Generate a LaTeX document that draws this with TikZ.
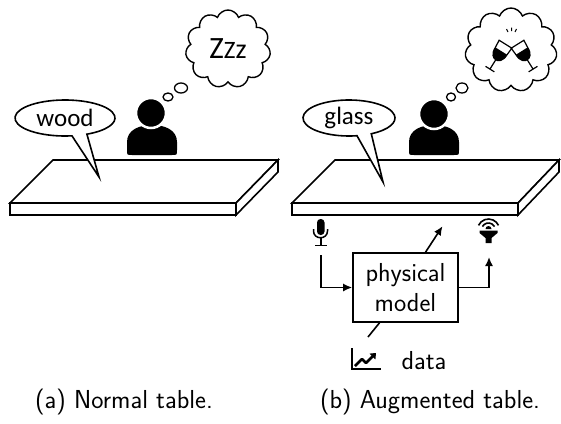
\documentclass[tikz,border=0pt]{standalone}
\usepackage{fontspec}
\newfontfamily\bubblefont{Carlito}
\usetikzlibrary{shapes.symbols,arrows.meta,calc}

\tikzset{
  line/.style={line width=1.6pt},
  bubble/.style={line, fill=white},
  thought/.style={cloud, cloud puffs=11, cloud puff arc=140, cloud ignores aspect,
    draw, line width=1.4pt, fill=white, inner sep=0pt},
  puff/.style={line width=1.3pt, fill=white},
  says/.style={font=\bubblefont\fontsize{25}{25}\selectfont},
  label/.style={font=\sffamily\fontsize{26}{30}\selectfont},
  link/.style={line, -{Latex[length=9pt,width=8pt]}},
}

\begin{document}
\begin{tikzpicture}[x=1pt,y=-1pt]
\useasboundingbox (0,0) rectangle (561,423);

% ---- (a) normal table ----
\draw[line,fill=white] (53,160) -- (278,160) -- (236,203) -- (10,203) -- cycle;
\draw[line,fill=white] (10,203) rectangle (236,215);
\draw[line,fill=white] (236,203) -- (278,160) -- (278,172) -- (236,215) -- cycle;

% person
\fill (127,142) .. controls (127,130) and (139,125) .. (152,125)
  .. controls (165,125) and (177,130) .. (177,142) -- (177,150)
  .. controls (177,155) .. (172,155) -- (132,155)
  .. controls (127,155) .. (127,150) -- cycle;
\filldraw[draw=white, line width=2.5pt] (151,113) circle[radius=15pt];

% speech bubble
\draw[bubble] ($(65,118)+(82:50 and 18)$) arc[start angle=82, end angle=424, x radius=50, y radius=18] -- (99,177) -- cycle;
\node[says] (wood) at (65,118) {wood};

% thought
\draw[puff] (168,97) ellipse[x radius=5, y radius=4];
\draw[puff] (181,88) ellipse[x radius=6.5, y radius=5];
\node[thought, minimum width=85pt, minimum height=78pt] (dream) at (228,49)
  {\bubblefont{\fontsize{31}{31}\selectfont Z}{\fontsize{25}{25}\selectfont Z}{\fontsize{28}{28}\selectfont z}};

\node[label] (capa) at (124,402) {(a) Normal table.};

% ---- (b) augmented table ----
\draw[line,fill=white] (335,160) -- (559,160) -- (518,203) -- (292,203) -- cycle;
\draw[line,fill=white] (292,203) rectangle (518,215);
\draw[line,fill=white] (518,203) -- (559,160) -- (559,172) -- (518,215) -- cycle;

% person
\fill (409,142) .. controls (409,130) and (421,125) .. (434,125)
  .. controls (447,125) and (459,130) .. (459,142) -- (459,150)
  .. controls (459,155) .. (454,155) -- (414,155)
  .. controls (409,155) .. (409,150) -- cycle;
\filldraw[draw=white, line width=2.5pt] (434,114) circle[radius=15pt];

% speech bubble
\draw[bubble] ($(349,118)+(80:46 and 18)$) arc[start angle=80, end angle=421, x radius=46, y radius=18] -- (383,182) -- cycle;
\node[says] (glass) at (349,118) {glass};

% thought with two glasses clinking
\draw[puff] (451,97) ellipse[x radius=4.5, y radius=4];
\draw[puff] (462,88) ellipse[x radius=6, y radius=5];
\node[thought, minimum width=92pt, minimum height=84pt] (cheers) at (511,50) {};
\foreach \gx/\tilt in {500/-32, 523/32}{
  \begin{scope}[shift={(\gx,53)}, rotate=\tilt, scale=1.15]
    \fill (-6,-2) -- (6,-2) .. controls (6,5) and (2.5,7) .. (0,7)
      .. controls (-2.5,7) and (-6,5) .. (-6,-2) -- cycle;
    \draw[line width=1.2pt] (-6.5,-9) -- (6.5,-9) -- (6,-2) .. controls (6,5) and (2.5,7) .. (0,7)
      .. controls (-2.5,7) and (-6,5) .. (-6,-2) -- cycle;
    \draw[line width=1.2pt] (0,7) -- (0,16) (-4.5,16.5) -- (4.5,16.5);
  \end{scope}
}
\draw[line width=1pt] (508,32) -- (506.5,29) (511.5,31) -- (511.5,27.5) (515,32) -- (516.5,29);

% microphone
\fill[rounded corners=3.5pt] (317,219) rectangle (324.5,235);
\draw[line width=1.5pt] (313.5,229) -- (313.5,231) .. controls (313.5,240) and (327.5,240) .. (327.5,231) -- (327.5,229);
\draw[line width=1.5pt] (320.75,238) -- (320.75,245) (315,245.5) -- (326.5,245.5);
\coordinate (micout) at (321,255);

% speaker
\draw[line width=1.6pt] (488.5,230) ++(-155:11) arc[start angle=-155, end angle=-25, radius=11];
\draw[line width=1.6pt] (488.5,230) ++(-150:7) arc[start angle=-150, end angle=-30, radius=7];
\fill (485.5,229) arc[start angle=180, end angle=360, radius=3] -- cycle;
\fill (479.5,230.5) -- (497.5,230.5) -- (497.5,233) -- (491.5,238) -- (491.5,243)
  -- (485.5,243) -- (485.5,238) -- (479.5,233) -- cycle;
\coordinate (spkin) at (489,257);

% model box and signal flow
\node[draw, line, fill=white, label, align=center, minimum width=105pt, minimum height=69pt,
  inner sep=0pt] (model) at (405.5,287.5) {physical\\model};
\draw[link] (micout) |- (model.west);
\draw[link] (model.east) -| (spkin);
\draw[link] ($(model.north)+(20,0)$) -- ++(17,-26);
\coordinate (dataend) at (368,337);
\draw[line] (dataend) -- ($(model.south)+(-26,0)$);

% data icon
\draw[line width=1.3pt] (352,348) -- (352,369) -- (381,369);
\draw[line width=2.5pt, line join=round, -{Triangle[length=5pt,width=8pt]}]
  (355,366) -- (362,359) -- (366,363) -- (376,353);
\node[label] (data) at (424,361) {data};

\node[label] (capb) at (430,402) {(b) Augmented table.};
\end{tikzpicture}
\end{document}
